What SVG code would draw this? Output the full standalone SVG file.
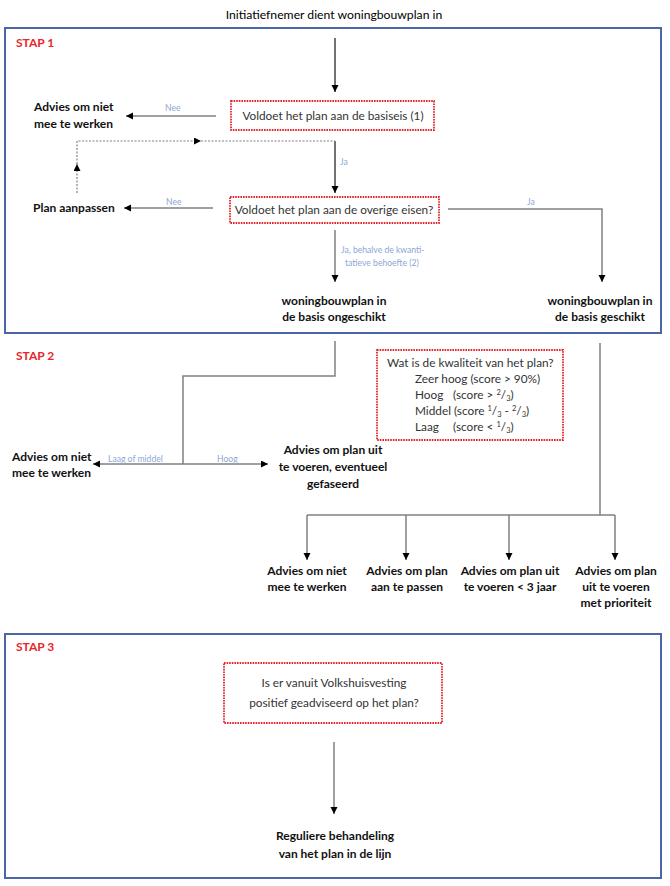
<svg xmlns="http://www.w3.org/2000/svg" width="670" height="886" viewBox="0 0 670 886">
<defs>
<style>
.frame{fill:none;stroke:#4a65a8;stroke-width:2}
.stap{font-family:Lato,"Liberation Sans",sans-serif;font-weight:bold;font-size:12px;fill:#e8262a}
.dec{fill:#fff;stroke:#e3262b;stroke-width:1.8;stroke-dasharray:1.6 1}
.lbl{font-family:Lato,"Liberation Sans",sans-serif;font-weight:bold;font-size:12px;fill:#111}
.txt{font-family:Lato,"Liberation Sans",sans-serif;font-size:11.8px;fill:#333}
.ttl{font-family:Lato,"Liberation Sans",sans-serif;font-size:12.2px;fill:#000}
.el{font-family:Lato,"Liberation Sans",sans-serif;font-size:8.6px;fill:#8ea6d6}
.edge{fill:none;stroke:#808080;stroke-width:1.5}
.dark{stroke:#444}
.dash{stroke-dasharray:2 1.5;stroke-width:1.2}
.mid{text-anchor:middle}
</style>
<marker id="ah" markerUnits="userSpaceOnUse" markerWidth="8" markerHeight="8" refX="7" refY="3.5" orient="auto">
<path d="M0,0 L7,3.5 L0,7 z" fill="#000"/>
</marker>
</defs>
<rect width="670" height="886" fill="#fff"/>

<g id="title"><text class="ttl mid" x="334" y="19">Initiatiefnemer dient woningbouwplan in</text></g>

<g id="stap1">
<rect class="frame" x="5" y="28" width="656" height="305"/>
<text class="stap" x="16" y="47">STAP 1</text>
</g>
<g id="stap2"><text class="stap" x="16" y="360">STAP 2</text></g>
<g id="stap3">
<rect class="frame" x="5" y="634" width="656" height="244"/>
<text class="stap" x="16" y="651">STAP 3</text>
</g>

<g id="connectors">
<path class="edge dark" d="M335,38 V92" marker-end="url(#ah)"/>
<path class="edge" d="M216,116 H126" marker-end="url(#ah)"/>
<path class="edge dark" d="M335,141 V193" marker-end="url(#ah)"/>
<path class="edge dash" d="M77,193 V164" marker-end="url(#ah)"/>
<path class="edge dash" d="M77,164 V141 H201" marker-end="url(#ah)"/>
<path class="edge dash" d="M201,141 H335"/>
<path class="edge" d="M213,208 H124" marker-end="url(#ah)"/>
<path class="edge" d="M448,209 H602 V282" marker-end="url(#ah)"/>
<path class="edge" d="M335,230 V282" marker-end="url(#ah)"/>
<path class="edge" d="M335,341 V376 H183 V464"/>
<path class="edge" d="M183,464 H93" marker-end="url(#ah)"/>
<path class="edge" d="M183,464 H268" marker-end="url(#ah)"/>
<path class="edge" d="M600,343 V515"/>
<path class="edge" d="M307,515 H615"/>
<path class="edge" d="M307,515 V560" marker-end="url(#ah)"/>
<path class="edge" d="M406,515 V560" marker-end="url(#ah)"/>
<path class="edge" d="M509,515 V560" marker-end="url(#ah)"/>
<path class="edge" d="M615,515 V560" marker-end="url(#ah)"/>
<path class="edge" d="M334,742 V814" marker-end="url(#ah)"/>
<text class="el" x="165" y="111">Nee</text>
<text class="el" x="340" y="165">Ja</text>
<text class="el" x="166" y="205">Nee</text>
<text class="el" x="527" y="205">Ja</text>
<text class="el" x="341" y="253">Ja, behalve de kwanti-</text>
<text class="el" x="345" y="266">tatieve behoefte (2)</text>
<text class="el" x="108" y="462">Laag of middel</text>
<text class="el" x="217" y="462">Hoog</text>
</g>

<g id="n-basiseis">
<rect class="dec" x="231" y="101" width="203" height="29"/>
<text class="txt mid" x="333" y="120">Voldoet het plan aan de basiseis (1)</text>
</g>
<g id="n-advies1">
<text class="lbl" x="34" y="111">Advies om niet</text>
<text class="lbl" x="34" y="128">mee te werken</text>
</g>
<g id="n-overige">
<rect class="dec" x="230" y="197" width="209" height="26"/>
<text class="txt mid" x="334" y="214">Voldoet het plan aan de overige eisen?</text>
</g>
<g id="n-aanpassen"><text class="lbl" x="33" y="212">Plan aanpassen</text></g>
<g id="n-ongeschikt">
<text class="lbl mid" x="334" y="305">woningbouwplan in</text>
<text class="lbl mid" x="334" y="321">de basis ongeschikt</text>
</g>
<g id="n-geschikt">
<text class="lbl mid" x="600" y="305">woningbouwplan in</text>
<text class="lbl mid" x="600" y="321">de basis geschikt</text>
</g>

<g id="n-kwaliteit">
<rect class="dec" x="377" y="350" width="186" height="90"/>
<text class="txt" x="387" y="367">Wat is de kwaliteit van het plan?</text>
<text class="txt" x="415" y="383">Zeer hoog (score &gt; 90%)</text>
<text class="txt" y="399"><tspan x="415">Hoog</tspan><tspan x="453">(score &gt; </tspan><tspan font-size="7.5" dy="-4">2</tspan><tspan dy="4">/</tspan><tspan font-size="7.5" dy="2">3</tspan><tspan dy="-2">)</tspan></text>
<text class="txt" x="415" y="415">Middel (score <tspan font-size="7.5" dy="-4">1</tspan><tspan dy="4">/</tspan><tspan font-size="7.5" dy="2">3</tspan><tspan dy="-2"> - </tspan><tspan font-size="7.5" dy="-4">2</tspan><tspan dy="4">/</tspan><tspan font-size="7.5" dy="2">3</tspan><tspan dy="-2">)</tspan></text>
<text class="txt" y="431"><tspan x="415">Laag</tspan><tspan x="453">(score &lt; </tspan><tspan font-size="7.5" dy="-4">1</tspan><tspan dy="4">/</tspan><tspan font-size="7.5" dy="2">3</tspan><tspan dy="-2">)</tspan></text>
</g>

<g id="n-advies2">
<text class="lbl" x="12" y="461">Advies om niet</text>
<text class="lbl" x="12" y="477">mee te werken</text>
</g>
<g id="n-gefaseerd">
<text class="lbl mid" x="333" y="454">Advies om plan uit</text>
<text class="lbl mid" x="333" y="471">te voeren, eventueel</text>
<text class="lbl mid" x="333" y="488">gefaseerd</text>
</g>

<g id="n-r1">
<text class="lbl mid" x="307" y="575">Advies om niet</text>
<text class="lbl mid" x="307" y="591">mee te werken</text>
</g>
<g id="n-r2">
<text class="lbl mid" x="407" y="575">Advies om plan</text>
<text class="lbl mid" x="407" y="591">aan te passen</text>
</g>
<g id="n-r3">
<text class="lbl mid" x="510" y="575">Advies om plan uit</text>
<text class="lbl mid" x="510" y="591">te voeren &lt; 3 jaar</text>
</g>
<g id="n-r4">
<text class="lbl mid" x="616" y="575">Advies om plan</text>
<text class="lbl mid" x="616" y="591">uit te voeren</text>
<text class="lbl mid" x="616" y="607">met prioriteit</text>
</g>

<g id="n-volkshuisvesting">
<rect class="dec" x="224" y="663" width="218" height="60"/>
<text class="txt mid" x="334" y="687">Is er vanuit Volkshuisvesting</text>
<text class="txt mid" x="334" y="707">positief geadviseerd op het plan?</text>
</g>
<g id="n-regulier">
<text class="lbl mid" x="335" y="840">Reguliere behandeling</text>
<text class="lbl mid" x="335" y="858">van het plan in de lijn</text>
</g>
</svg>
